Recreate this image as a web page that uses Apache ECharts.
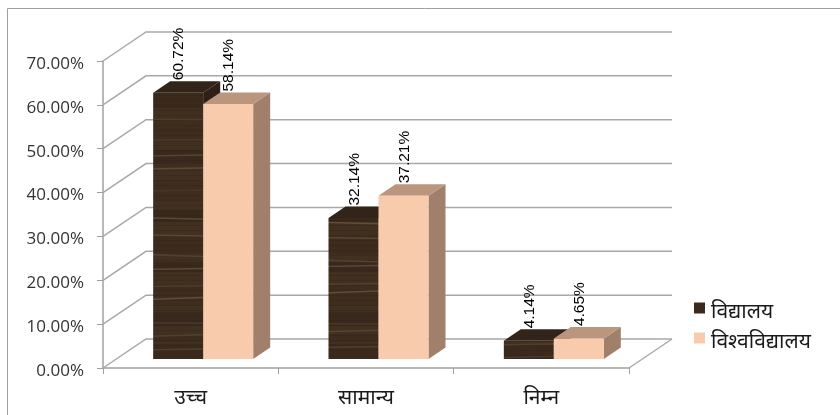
<!DOCTYPE html>
<html><head><meta charset="utf-8">
<style>html,body{margin:0;padding:0;background:#fff}#c{width:840px;height:415px}</style>
<script src="https://cdn.jsdelivr.net/npm/echarts@6/dist/echarts.min.js"></script>
</head><body><div id="c"></div>
<script>
var categories = ['उच्च', 'सामान्य', 'निम्न'];
var schoolName = 'विद्यालय';
var universityName = 'विश्वविद्यालय';
var schoolValues = [60.72, 32.14, 4.14];
var universityValues = [58.14, 37.21, 4.65];
var gridTicks = [0, 10, 20, 30, 40, 50, 60, 70];

// wood-grain fill for the dark bars: fixed streaks [y, rise across the tile, alpha]
var streaks = [[118,6,.10],[141,-4,.12],[158,-10,.22],[172,-14,.20],[192,-6,.10],[214,18,.24],[233,10,.20],[250,22,.16],[272,-12,.24],[288,-8,.14],[305,-26,.24],[322,4,.12],[340,-18,.18],[352,-10,.16],[372,-20,.12],[395,-14,.10]];
var bands = [[0,96,.08],[96,12,.12],[120,22,.06],[150,14,.14],[180,20,.05],[210,12,.14],[236,18,.07],[262,10,.15],[284,22,.06],[312,14,.14],[334,8,.08],[344,24,.12]];
function woodPattern() {
  var cv = document.createElement('canvas'); cv.width = 700; cv.height = 420;
  var g = cv.getContext('2d');
  g.fillStyle = '#412f20'; g.fillRect(0, 0, 700, 420);
  bands.forEach(function (b) {
    g.fillStyle = 'rgba(15,9,4,' + b[2] + ')';
    g.fillRect(0, b[0], 700, b[1]);
  });
  for (var y = 0; y < 420; y += 5) {
    g.fillStyle = 'rgba(20,12,6,.10)';
    g.fillRect(0, y, 700, 1);
  }
  streaks.forEach(function (s) {
    g.strokeStyle = 'rgba(200,175,140,' + s[2] + ')';
    g.lineWidth = 1.6;
    g.beginPath(); g.moveTo(0, s[0]); g.lineTo(700, s[0] + s[1]); g.stroke();
  });
  return cv;
}
var wood = woodPattern();
var DX = 43, DY = -29, BX = 17, BY = -11.5, OX = 12.5, OY = -9;

function wallItem(params, api) {
  var v = api.value(0);
  var p0 = api.coord([0, v]);
  var cs = params.coordSys;
  var l = cs.x, r = cs.x + cs.width, y = p0[1];
  var line = {stroke: '#a8a8a8', lineWidth: 1.5, fill: null};
  var kids = [{type: 'polyline', shape: {points: [[l, y], [l + DX, y + DY], [r + DX, y + DY]]}, style: line, silent: true}];
  if (v === 0) kids.push({type: 'line', shape: {x1: r, y1: y, x2: r + DX, y2: y + DY}, style: line, silent: true});
  return {type: 'group', children: kids};
}

function barRender(offsetIndex, fill, topFill, sideFill) {
  return function (params, api) {
    var c = api.value(0), v = api.value(1);
    var base = api.coord([c, 0]), top = api.coord([c, v]);
    var w = 50;
    var x = base[0] + OX + (offsetIndex - 1) * w;
    var y0 = base[1] + OY, y1 = top[1] + OY;
    var label = v.toFixed(2) + '%';
    return {type: 'group', children: [
      {type: 'polygon', shape: {points: [[x + w, y0], [x + w + BX, y0 + BY], [x + w + BX, y1 + BY], [x + w, y1]]}, style: {fill: sideFill}},
      {type: 'polygon', shape: {points: [[x, y1], [x + BX, y1 + BY], [x + w + BX, y1 + BY], [x + w, y1]]}, style: {fill: topFill}},
      {type: 'rect', shape: {x: x, y: y1, width: w, height: y0 - y1}, style: {fill: fill}},
      {type: 'text', x: x + w / 2 + 1, y: y1 + BY - 1, rotation: Math.PI / 2,
        style: {text: label, fill: '#000', font: '15.5px "Liberation Sans"', align: 'left', verticalAlign: 'middle'}, z2: 50}
    ]};
  };
}

var legendIcon = 'path://M0,0H11V11H0ZM0,19L0,19';
var chart = echarts.init(document.getElementById('c'), null, {renderer: 'canvas'});
chart.setOption({
  animation: false,
  backgroundColor: '#fff',
  grid: {left: 103, right: 211, top: 61, bottom: 47, containLabel: false},
  graphic: [{type: 'rect', shape: {x: 7.5, y: 8.5, width: 850, height: 420}, style: {fill: null, stroke: '#a0a0a0', lineWidth: 1}, silent: true}],
  legend: {
    left: 689, top: 297, padding: [0, 5], orient: 'vertical', itemWidth: 11, itemHeight: 19, itemGap: 0,
    data: [{name: schoolName, icon: legendIcon}, {name: universityName, icon: legendIcon}],
    textStyle: {fontSize: 21, lineHeight: 18, color: '#1a1a1a', fontFamily: 'Noto Sans, DejaVu Sans, sans-serif', padding: [12, 0, 0, 1]}
  },
  xAxis: {
    type: 'category', data: categories, boundaryGap: true,
    axisLine: {lineStyle: {color: '#a0a0a0', width: 1.5}},
    axisTick: {show: true, length: 6, alignWithLabel: false, lineStyle: {color: '#a0a0a0'}},
    axisLabel: {fontSize: 21, color: '#1a1a1a', margin: 20, fontFamily: 'Noto Sans, DejaVu Sans, sans-serif'}
  },
  yAxis: {
    type: 'value', min: 0, max: 70, interval: 10,
    axisLine: {show: true, lineStyle: {color: '#a0a0a0', width: 1.5}},
    axisTick: {show: true, length: 6, lineStyle: {color: '#a0a0a0'}},
    splitLine: {show: false},
    axisLabel: {fontSize: 17, color: '#333', margin: 19, fontFamily: 'Open Sans', verticalAlign: 'top', lineHeight: 6, formatter: function (v) { return v.toFixed(2) + '%'; }}
  },
  series: [
    {type: 'custom', name: 'wall', silent: true, z: 1, renderItem: wallItem, data: gridTicks.map(function (t) { return [t]; }), encode: {y: 0}, clip: false},
    {type: 'custom', name: schoolName, z: 3, clip: false, itemStyle: {color: '#3b2a1c'},
      renderItem: barRender(0, {image: wood, repeat: 'repeat'}, '#33241a', '#2e2016'),
      data: schoolValues.map(function (v, i) { return [i, v]; }), encode: {x: 0, y: 1}},
    {type: 'custom', name: universityName, z: 4, clip: false, itemStyle: {color: '#f8cbad'},
      renderItem: barRender(1, '#f8cbad', '#ba967f', '#a0806b'),
      data: universityValues.map(function (v, i) { return [i, v]; }), encode: {x: 0, y: 1}}
  ]
});
</script></body></html>
